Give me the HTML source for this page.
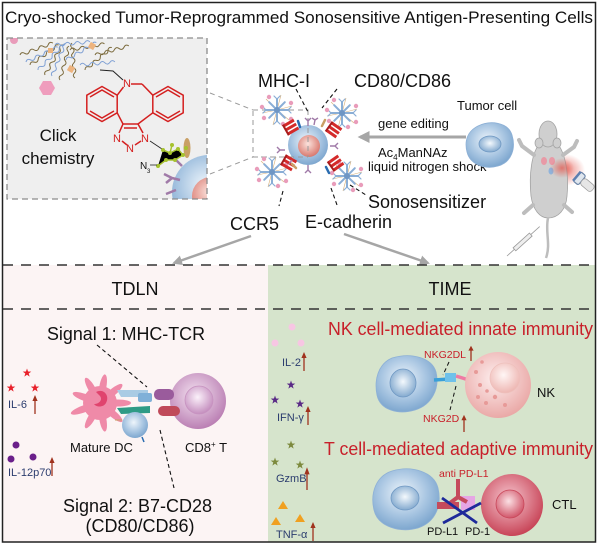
<!DOCTYPE html>
<html><head><meta charset="utf-8"><style>
html,body{margin:0;padding:0;background:#fff;}
svg{display:block;}
text{font-family:"Liberation Sans",Arial,sans-serif;}
</style></head><body>
<svg width="600" height="545" viewBox="0 0 600 545" xmlns="http://www.w3.org/2000/svg">
<defs>
<radialGradient id="gBlue" cx="45%" cy="40%" r="60%"><stop offset="0" stop-color="#eef5fb"/><stop offset="0.6" stop-color="#a9c6e2"/><stop offset="1" stop-color="#7ea7cf"/></radialGradient>
<radialGradient id="gBlueNuc" cx="50%" cy="45%" r="60%"><stop offset="0" stop-color="#f4f9fd"/><stop offset="1" stop-color="#7aa3cb"/></radialGradient>
<radialGradient id="gRed" cx="45%" cy="40%" r="60%"><stop offset="0" stop-color="#fbe3dd"/><stop offset="1" stop-color="#d9786e"/></radialGradient>
<radialGradient id="gCTL" cx="45%" cy="40%" r="60%"><stop offset="0" stop-color="#f6c6cf"/><stop offset="1" stop-color="#c84558"/></radialGradient>
<radialGradient id="gCTLn" cx="45%" cy="40%" r="60%"><stop offset="0" stop-color="#fbe0e4"/><stop offset="1" stop-color="#d1566a"/></radialGradient>
<radialGradient id="gNK" cx="45%" cy="40%" r="60%"><stop offset="0" stop-color="#fdeeee"/><stop offset="1" stop-color="#eaa9a7"/></radialGradient>
<radialGradient id="gNKn" cx="45%" cy="40%" r="60%"><stop offset="0" stop-color="#fff6f5"/><stop offset="1" stop-color="#eeb7b3"/></radialGradient>
<radialGradient id="gCD8" cx="45%" cy="40%" r="60%"><stop offset="0" stop-color="#f4e3f1"/><stop offset="1" stop-color="#bb80b4"/></radialGradient>
<radialGradient id="gCD8n" cx="45%" cy="40%" r="60%"><stop offset="0" stop-color="#fbf1fa"/><stop offset="1" stop-color="#c58fbf"/></radialGradient>
<radialGradient id="gGlow" cx="50%" cy="50%" r="50%"><stop offset="0" stop-color="#e4584e" stop-opacity="0.75"/><stop offset="1" stop-color="#e4584e" stop-opacity="0"/></radialGradient>
<clipPath id="insetClip"><rect x="7" y="38" width="200" height="161"/></clipPath>
<marker id="ah" viewBox="0 0 10 10" refX="8" refY="5" markerWidth="4" markerHeight="4" orient="auto"><path d="M0,0 L10,5 L0,10 z" fill="#a6a6a6"/></marker>
<path id="star" d="M0,-4.5 L1.06,-1.46 4.28,-1.39 1.71,0.56 2.65,3.64 0,1.8 -2.65,3.64 -1.71,0.56 -4.28,-1.39 -1.06,-1.46Z"/>
<path id="wv" d="M0,0 q2.5,-3 5,0 t5,0 t5,0 t5,0 t5,0 t5,0 t5,0" fill="none" stroke-width="1"/>
<g id="upa"><line x1="0" y1="0" x2="0" y2="-14" stroke="#a0321e" stroke-width="1.3"/><polygon points="-2.6,-13 0,-19 2.6,-13" fill="#a0321e"/></g>
<g id="gly">
 <g stroke="#d7b07a" stroke-width="0.6">
  <line x1="0" y1="0" x2="15" y2="-4"/><line x1="0" y1="0" x2="-4" y2="15"/><line x1="0" y1="0" x2="-15" y2="3"/><line x1="0" y1="0" x2="4" y2="-15"/><line x1="0" y1="0" x2="12" y2="10"/><line x1="0" y1="0" x2="-11" y2="-11"/>
 </g>
 <g stroke="#8aaed6" stroke-width="2" stroke-linecap="round">
  <line x1="0" y1="0" x2="11" y2="0"/><line x1="0" y1="0" x2="7.8" y2="7.8"/><line x1="0" y1="0" x2="0" y2="11"/><line x1="0" y1="0" x2="-7.8" y2="7.8"/><line x1="0" y1="0" x2="-11" y2="0"/><line x1="0" y1="0" x2="-7.8" y2="-7.8"/><line x1="0" y1="0" x2="0" y2="-11"/><line x1="0" y1="0" x2="7.8" y2="-7.8"/>
  <path d="M11,0 l3,-3 M11,0 l3,3 M0,11 l-3,3 M0,11 l3,3 M-11,0 l-3,-3 M-11,0 l-3,3 M0,-11 l-3,-3 M0,-11 l3,-3" stroke-width="1.2"/>
 </g>
 <circle r="3" fill="#6f96c4"/>
 <g fill="#e99cba"><circle cx="14" cy="-7" r="2.2"/><circle cx="-13" cy="8" r="2.2"/><circle cx="6" cy="14" r="2.2"/><circle cx="-8" cy="-13" r="2.2"/><circle cx="14" cy="9" r="2.2"/><circle cx="-15" cy="-3" r="2.2"/></g>
</g>
<g id="rec">
 <rect x="-6" y="-6" width="12" height="3" fill="#d42a2a"/><rect x="-6" y="-1.5" width="12" height="3" fill="#d42a2a"/><rect x="-6" y="3" width="12" height="3" fill="#d42a2a"/><rect x="-7" y="-6" width="2" height="12" fill="#a81c1c"/>
</g>
</defs>

<!-- backgrounds -->
<rect x="0" y="0" width="600" height="545" fill="#fff"/>
<rect x="3" y="265" width="265" height="277" fill="#fcf4f4"/>
<rect x="268" y="265" width="327" height="277" fill="#d6e4cc"/>
<rect x="2.5" y="2.5" width="593" height="539.5" fill="none" stroke="#222" stroke-width="1.5"/>

<!-- title -->
<text x="5" y="23" font-size="17" fill="#111" textLength="588" lengthAdjust="spacingAndGlyphs">Cryo-shocked Tumor-Reprogrammed Sonosensitive Antigen-Presenting Cells</text>

<!-- inset box -->
<rect x="7" y="38" width="200" height="161" fill="#efefef"/>
<g clip-path="url(#insetClip)">
 <g stroke="#7b6a3c">
  <use href="#wv" transform="translate(20,55) rotate(-20)"/>
  <use href="#wv" transform="translate(30,65) rotate(-35)"/>
  <use href="#wv" transform="translate(45,75) rotate(-60)"/>
  <use href="#wv" transform="translate(60,80) rotate(-75)"/>
  <use href="#wv" transform="translate(75,78) rotate(-95)"/>
  <use href="#wv" transform="translate(70,50) rotate(-10)"/>
  <use href="#wv" transform="translate(85,70) rotate(-40)"/>
  <use href="#wv" transform="translate(95,55) rotate(-15)"/>
 </g>
 <g stroke="#7fa0d4">
  <use href="#wv" transform="translate(26,62) rotate(-25)"/>
  <use href="#wv" transform="translate(38,70) rotate(-45)"/>
  <use href="#wv" transform="translate(52,76) rotate(-68)"/>
  <use href="#wv" transform="translate(66,60) rotate(-30)"/>
  <use href="#wv" transform="translate(80,65) rotate(-5)"/>
  <use href="#wv" transform="translate(55,45) rotate(-5)"/>
 </g>
 <g fill="#eeb47e"><rect x="89" y="43" width="6" height="6" transform="rotate(30 92 46)"/><rect x="68" y="66" width="6" height="6" transform="rotate(30 71 69)"/><rect x="48" y="48" width="5" height="5"/></g>
 <circle cx="14" cy="40" r="4" fill="#e99cba"/>
 <polygon points="55,88 51,95 43,95 39,88 43,81 51,81" fill="#ef9dbd"/>
 <polyline points="100,70 113,71 123,80" fill="none" stroke="#222" stroke-width="1"/>
 <g fill="none" stroke="#d42020" stroke-width="1.5">
  <polygon points="102,86.5 117.2,95.2 117.2,112.8 102,121.5 86.8,112.8 86.8,95.2"/>
  <polyline points="90,97 102,90 114,97"/><polyline points="90,111 102,118 114,111"/>
  <polygon points="168,86.5 183.2,95.2 183.2,112.8 168,121.5 152.8,112.8 152.8,95.2"/>
  <polyline points="156,97 168,90 180,97"/><polyline points="156,111 168,118 180,111"/>
  <line x1="117.2" y1="95.2" x2="123.5" y2="87"/>
  <line x1="131" y1="84" x2="142" y2="84"/><line x1="142" y1="84" x2="152.8" y2="95.2"/>
  <line x1="117.2" y1="112.8" x2="123" y2="124"/><line x1="152.8" y1="112.8" x2="138" y2="124"/>
  <line x1="123" y1="124" x2="138" y2="124"/><line x1="124" y1="128" x2="137" y2="128"/>
  <line x1="123" y1="124" x2="119" y2="133"/><line x1="138" y1="124" x2="143" y2="133"/>
  <line x1="122" y1="141" x2="127" y2="145"/><line x1="141" y1="141" x2="135" y2="145"/>
 </g>
 <g fill="#d42020" font-size="11" text-anchor="middle">
  <text x="127" y="87">N</text><text x="117" y="142">N</text><text x="130" y="152">N</text><text x="145" y="142">N</text>
 </g>
 <line x1="150" y1="141" x2="162" y2="149" stroke="#222" stroke-width="0.8"/>
 <circle cx="209" cy="192" r="37" fill="url(#gBlue)"/>
 <circle cx="211" cy="196" r="19" fill="url(#gRed)"/>
 <ellipse cx="187" cy="148" rx="3.5" ry="10" fill="#c9a066"/>
 <g stroke="#a07aa8" stroke-width="2.5" fill="none">
  <path d="M172,178 l-8,-4 M172,178 l-6,5 M172,178 l8,2"/>
  <path d="M182,166 l-6,-6"/>
  <path d="M176,190 l-10,4"/>
 </g>
 <g stroke="#a6c22e" stroke-width="1.5"><polyline points="163,150 170,153 178,149 183,155 175,160 166,160 158,166"/><line x1="170" y1="153" x2="172" y2="145"/></g>
 <g fill="#a6c22e"><circle cx="163" cy="150" r="2"/><circle cx="170" cy="153" r="2"/><circle cx="178" cy="149" r="2"/><circle cx="183" cy="155" r="2"/><circle cx="175" cy="160" r="2"/><circle cx="166" cy="160" r="2"/><circle cx="158" cy="166" r="2"/><circle cx="172" cy="145" r="2"/><circle cx="186" cy="148" r="2"/></g>
 <line x1="150" y1="165" x2="157" y2="165" stroke="#222" stroke-width="0.8"/>
 <text x="140" y="169" font-size="10" fill="#111">N</text><text x="147" y="173" font-size="6" fill="#111">3</text>
</g>
<rect x="7" y="38" width="200" height="161" fill="none" stroke="#8c8c8c" stroke-width="1.3" stroke-dasharray="6,4"/>
<text x="58" y="141" font-size="17" fill="#111" text-anchor="middle">Click</text>
<text x="58" y="164" font-size="17" fill="#111" text-anchor="middle">chemistry</text>

<!-- zoom lines -->
<g stroke="#9a9a9a" stroke-width="1" stroke-dasharray="5,4" fill="none">
 <line x1="210" y1="93" x2="253" y2="110"/>
 <line x1="210" y1="174" x2="253" y2="157"/>
 <rect x="253" y="110" width="55" height="47"/>
</g>

<!-- central cell -->
<circle cx="308" cy="145" r="20" fill="url(#gBlue)"/>
<circle cx="309" cy="146" r="11" fill="url(#gRed)"/>
<line x1="308" y1="110" x2="308" y2="157" stroke="#9a9a9a" stroke-width="1" stroke-dasharray="5,4"/>
<line x1="253" y1="157" x2="308" y2="157" stroke="#9a9a9a" stroke-width="1" stroke-dasharray="5,4"/>
<use href="#gly" transform="translate(277,110)"/>
<use href="#gly" transform="translate(342,113)"/>
<use href="#gly" transform="translate(272,172)"/>
<use href="#gly" transform="translate(347,176)"/>
<use href="#rec" transform="translate(291,127) rotate(-30)"/>
<use href="#rec" transform="translate(334,130) rotate(35)"/>
<use href="#rec" transform="translate(289,163) rotate(30)"/>
<use href="#rec" transform="translate(336,163) rotate(-35)"/>
<g stroke="#2a6cb0" stroke-width="2.5" stroke-linecap="round"><line x1="298" y1="121" x2="300" y2="127"/><line x1="326" y1="167" x2="329" y2="173"/></g>
<g stroke="#c9a066" stroke-width="2.5" stroke-linecap="round"><line x1="325" y1="120" x2="322" y2="126"/><line x1="292" y1="164" x2="296" y2="168"/></g>
<g stroke="#a07aa8" stroke-width="1.4" fill="none">
 <path d="M308,126 l0,-5 M308,121 l-3,-3 M308,121 l3,-3"/><path d="M314,125 l1,-5 l-3,-2 M315,120 l3,-2"/>
 <path d="M330,146 l5,0 l3,-3 M335,146 l3,3"/><path d="M285,150 l-5,0 l-3,-3 M280,150 l-3,3"/>
 <path d="M308,165 l0,5 l-3,3 M308,170 l3,3"/><path d="M292,160 l-3,4"/>
</g>
<g stroke="#111" stroke-width="1.1" stroke-dasharray="4,3" fill="none">
 <line x1="296" y1="89" x2="308" y2="112"/>
 <line x1="337" y1="89" x2="322" y2="108"/>
 <line x1="283" y1="191" x2="279" y2="206"/>
 <line x1="331" y1="188" x2="337" y2="205"/>
 <line x1="350" y1="185" x2="366" y2="195"/>
</g>
<text x="258" y="87" font-size="18" fill="#111">MHC-I</text>
<text x="354" y="87" font-size="18" fill="#111">CD80/CD86</text>
<text x="368" y="208" font-size="18" fill="#111">Sonosensitizer</text>
<text x="305" y="228" font-size="18" fill="#111">E-cadherin</text>
<text x="230" y="230" font-size="18" fill="#111">CCR5</text>

<!-- horizontal arrow -->
<line x1="466" y1="137" x2="360" y2="137" stroke="#a6a6a6" stroke-width="3" marker-end="url(#ah)"/>
<text x="378" y="128" font-size="13" fill="#111">gene editing</text>
<text x="378" y="157" font-size="13" fill="#111">Ac<tspan font-size="8" dy="3">4</tspan><tspan dy="-3">ManNAz</tspan></text>
<text x="368" y="171" font-size="13" fill="#111">liquid nitrogen shock</text>
<text x="457" y="110" font-size="13" fill="#111">Tumor cell</text>
<path d="M478,126 C490,120 508,122 512,135 C516,148 512,162 498,166 C484,170 470,164 467,152 C464,140 468,131 478,126 Z" fill="url(#gBlue)" stroke="#8db0d6" stroke-width="0.8"/>
<ellipse cx="490" cy="144" rx="11" ry="8" fill="url(#gBlueNuc)" stroke="#6f98c3" stroke-width="0.8"/>

<!-- mouse -->
<g>
 <ellipse cx="565" cy="170" rx="20" ry="16" fill="url(#gGlow)"/>
 <path d="M541,142 C531,152 529,176 531,196 C533,210 540,218 548,218 C558,218 566,210 567,196 C569,176 566,152 556,142 Z" fill="#cfcfcf" stroke="#a3a3a3" stroke-width="0.8"/>
 <ellipse cx="548" cy="134" rx="9" ry="13" fill="#cfcfcf" stroke="#a3a3a3" stroke-width="0.8"/>
 <ellipse cx="539" cy="143" rx="4" ry="5" fill="#cfcfcf" stroke="#a3a3a3" stroke-width="0.8"/>
 <ellipse cx="557" cy="143" rx="4" ry="5" fill="#cfcfcf" stroke="#a3a3a3" stroke-width="0.8"/>
 <g stroke="#bdbdbd" stroke-width="4" stroke-linecap="round" fill="none">
  <path d="M534,155 L522,146 L519,140"/><path d="M563,155 L574,147 L577,141"/>
  <path d="M533,205 L524,213"/><path d="M564,205 L572,212"/>
 </g>
 <path d="M548,218 C545,232 551,244 546,258" stroke="#bdbdbd" stroke-width="2.5" fill="none"/>
 <g fill="#e89aa6"><ellipse cx="544" cy="161" rx="3" ry="4"/><ellipse cx="552" cy="161" rx="3" ry="4"/></g>
 <ellipse cx="551" cy="171" rx="2.5" ry="3.5" fill="#8fb3db"/>
 <ellipse cx="562" cy="168" rx="12" ry="10" fill="url(#gGlow)"/>
 <g transform="translate(579,178) rotate(40)">
  <rect x="-3" y="-6" width="7" height="12" rx="2" fill="#dfe6ee" stroke="#6d86a8" stroke-width="1.2"/>
  <rect x="4" y="-4" width="14" height="8" rx="3" fill="#e6e6e6" stroke="#9a9a9a" stroke-width="0.7"/>
  <rect x="-4" y="-6" width="2.5" height="12" fill="#5e7fb0"/>
 </g>
 <g transform="translate(507,256) rotate(-42)">
  <line x1="0" y1="0" x2="10" y2="0" stroke="#9a9a9a" stroke-width="0.8"/>
  <rect x="10" y="-2" width="22" height="4" fill="#eee" stroke="#9a9a9a" stroke-width="0.8"/>
  <line x1="32" y1="0" x2="44" y2="0" stroke="#9a9a9a" stroke-width="0.8"/>
 </g>
</g>

<!-- down arrows -->
<line x1="251" y1="236" x2="174" y2="263" stroke="#a6a6a6" stroke-width="2.5" marker-end="url(#ah)"/>
<line x1="344" y1="234" x2="428" y2="263" stroke="#a6a6a6" stroke-width="2.5" marker-end="url(#ah)"/>

<!-- dashed separators -->
<line x1="3" y1="265" x2="595" y2="265" stroke="#333" stroke-width="1.5" stroke-dasharray="10,8"/>
<line x1="3" y1="309" x2="595" y2="309" stroke="#333" stroke-width="1.5" stroke-dasharray="10,8"/>
<text x="135" y="295" font-size="18" fill="#111" text-anchor="middle">TDLN</text>
<text x="450" y="295" font-size="18" fill="#111" text-anchor="middle">TIME</text>

<!-- TDLN -->
<text x="47" y="340" font-size="18" fill="#111" textLength="158" lengthAdjust="spacingAndGlyphs">Signal 1: MHC-TCR</text>
<text x="63" y="512" font-size="18" fill="#111" textLength="149" lengthAdjust="spacingAndGlyphs">Signal 2: B7-CD28</text>
<text x="140" y="532" font-size="18" fill="#111" text-anchor="middle">(CD80/CD86)</text>
<g fill="#e8202a"><use href="#star" transform="translate(27,373)"/><use href="#star" transform="translate(11,388)"/><use href="#star" transform="translate(35,388)"/></g>
<text x="8" y="408" font-size="11" fill="#2b3c6e">IL-6</text>
<use href="#upa" transform="translate(35,414)"/>
<g fill="#6a1f8a"><circle cx="16" cy="445" r="3.5"/><circle cx="11" cy="459" r="3.5"/><circle cx="33" cy="457" r="3.5"/></g>
<text x="8" y="476" font-size="11" fill="#2b3c6e">IL-12p70</text>
<use href="#upa" transform="translate(52,476)"/>
<!-- DC -->
<g fill="#ef8aa8">
 <g transform="translate(100,403)">
  <ellipse rx="13" ry="3.5" transform="rotate(0) translate(18,0)"/>
  <ellipse rx="12" ry="3.5" transform="rotate(40) translate(17,0)"/>
  <ellipse rx="12" ry="3.5" transform="rotate(80) translate(17,0)"/>
  <ellipse rx="12" ry="3.5" transform="rotate(120) translate(17,0)"/>
  <ellipse rx="13" ry="3.5" transform="rotate(160) translate(18,0)"/>
  <ellipse rx="12" ry="3.5" transform="rotate(200) translate(17,0)"/>
  <ellipse rx="12" ry="3.5" transform="rotate(240) translate(17,0)"/>
  <ellipse rx="12" ry="3.5" transform="rotate(280) translate(17,0)"/>
  <ellipse rx="12" ry="3.5" transform="rotate(320) translate(17,0)"/>
  <circle r="17"/>
 </g>
</g>
<path d="M96,392 C104,388 110,396 106,403 C103,408 96,407 94,404 C99,404 103,400 100,396 Z" fill="#e0446e"/>
<circle cx="198" cy="401" r="28" fill="url(#gCD8)"/>
<circle cx="199" cy="400" r="14" fill="url(#gCD8n)" stroke="#c792c0" stroke-width="0.8"/>
<path d="M117,390 L148,390 L148,397 L121,397 Z" fill="#a9cbe4"/>
<rect x="138" y="393" width="14" height="9" rx="2" fill="#7fb0d8"/>
<rect x="154" y="389" width="20" height="11" rx="5" fill="#9a5b9c"/>
<path d="M117,408 L150,406 L150,413 L121,414 Z" fill="#2f9b86"/>
<rect x="158" y="406" width="22" height="10" rx="5" fill="#c04a5a"/>
<circle cx="135" cy="425" r="13" fill="url(#gBlue)"/>
<g stroke="#c9a066" stroke-width="1"><line x1="122" y1="420" x2="115" y2="420"/></g>
<g stroke="#2a6cb0" stroke-width="1.5"><line x1="142" y1="437" x2="144" y2="442"/></g>
<g stroke="#111" stroke-width="1.1" stroke-dasharray="4,3" fill="none">
 <line x1="97" y1="345" x2="147" y2="387"/>
 <line x1="160" y1="430" x2="174" y2="488"/>
</g>
<text x="70" y="452" font-size="13" fill="#111">Mature DC</text>
<text x="185" y="452" font-size="13" fill="#111">CD8<tspan font-size="8" dy="-5">+</tspan><tspan dy="5"> T</tspan></text>

<!-- TIME cytokines -->
<g fill="#f7c6e3"><circle cx="292" cy="327" r="3.5"/><circle cx="275" cy="343" r="3.5"/><circle cx="301" cy="343" r="3.5"/></g>
<text x="282" y="366" font-size="11" fill="#2b3c6e">IL-2</text>
<use href="#upa" transform="translate(304,371)"/>
<g fill="#5a2a86"><use href="#star" transform="translate(291,385)"/><use href="#star" transform="translate(275,400)"/><use href="#star" transform="translate(300,404)"/></g>
<text x="277" y="421" font-size="11" fill="#2b3c6e">IFN-γ</text>
<use href="#upa" transform="translate(308,425)"/>
<g fill="#7d8a3e"><use href="#star" transform="translate(291,445)"/><use href="#star" transform="translate(275,462)"/><use href="#star" transform="translate(300,465)"/></g>
<text x="276" y="482" font-size="11" fill="#2b3c6e">GzmB</text>
<use href="#upa" transform="translate(307,490) scale(1,1.2)"/>
<g fill="#f0a020"><polygon points="283,501 288,509 278,509"/><polygon points="276,517 281,525 271,525"/><polygon points="300,514 305,522 295,522"/></g>
<text x="276" y="538" font-size="11" fill="#2b3c6e">TNF-α</text>
<use href="#upa" transform="translate(313,541)"/>

<!-- NK -->
<text x="328" y="335" font-size="18" fill="#c8202a" textLength="265" lengthAdjust="spacingAndGlyphs">NK cell-mediated innate immunity</text>
<path d="M392,358 C412,352 432,358 436,372 C440,388 432,405 415,410 C398,415 380,410 377,395 C374,380 378,364 392,358 Z" fill="url(#gBlue)" stroke="#8db0d6" stroke-width="0.8"/>
<ellipse cx="403" cy="383" rx="13" ry="14" fill="url(#gBlueNuc)" stroke="#6f98c3" stroke-width="0.8"/>
<line x1="434" y1="380" x2="450" y2="379" stroke="#3aa0d8" stroke-width="3.5"/>
<rect x="445" y="373" width="11" height="9" fill="#6fc1ea"/>
<line x1="456" y1="376" x2="472" y2="381" stroke="#ef7aa4" stroke-width="3.5"/>
<circle cx="498" cy="385" r="33" fill="url(#gNK)"/>
<circle cx="505" cy="378" r="15" fill="url(#gNKn)" stroke="#eec0bc" stroke-width="0.8"/>
<g fill="#e79a98"><circle cx="476" cy="372" r="2"/><circle cx="480" cy="385" r="2"/><circle cx="478" cy="397" r="2"/><circle cx="486" cy="403" r="2"/><circle cx="495" cy="397" r="2.2"/><circle cx="505" cy="405" r="2"/><circle cx="487" cy="391" r="1.8"/><circle cx="482" cy="362" r="1.8"/></g>
<g stroke="#111" stroke-width="1" stroke-dasharray="4,3"><line x1="449" y1="362" x2="443" y2="375"/><line x1="456" y1="386" x2="450" y2="410"/></g>
<text x="424" y="358" font-size="10.5" fill="#c8202a">NKG2DL</text>
<use href="#upa" transform="translate(471,361) scale(1,0.8)"/>
<text x="423" y="422" font-size="10.5" fill="#c8202a">NKG2D</text>
<use href="#upa" transform="translate(464,432) scale(1,0.9)"/>
<text x="537" y="397" font-size="13" fill="#111">NK</text>

<!-- CTL -->
<text x="324" y="455" font-size="18" fill="#c8202a" textLength="269" lengthAdjust="spacingAndGlyphs">T cell-mediated adaptive immunity</text>
<path d="M392,471 C412,465 434,472 438,488 C442,505 436,522 418,528 C400,533 378,527 374,510 C370,493 376,476 392,471 Z" fill="url(#gBlue)" stroke="#8db0d6" stroke-width="0.8"/>
<ellipse cx="405" cy="498" rx="14" ry="12" fill="url(#gBlueNuc)" stroke="#6f98c3" stroke-width="0.8"/>
<circle cx="512" cy="505" r="31" fill="url(#gCTL)"/>
<circle cx="510" cy="504" r="14" fill="url(#gCTLn)" stroke="#c84558" stroke-width="0.8"/>
<rect x="437" y="502" width="22" height="7" fill="#c54a5c"/>
<rect x="461" y="496" width="14" height="14" fill="#e6a6e4"/>
<g stroke="#c54a5c" stroke-width="4" fill="none"><line x1="458" y1="479" x2="458" y2="497"/><line x1="458" y1="497" x2="450" y2="503"/><line x1="458" y1="497" x2="467" y2="502"/></g>
<g stroke="#1e2a9a" stroke-width="2.8"><line x1="442" y1="498" x2="477" y2="523"/><line x1="443" y1="523" x2="481" y2="503"/></g>
<text x="439" y="477" font-size="10.5" fill="#c8202a">anti PD-L1</text>
<text x="427" y="535" font-size="11" fill="#111">PD-L1</text>
<text x="465" y="535" font-size="11" fill="#111">PD-1</text>
<text x="552" y="509" font-size="13" fill="#111">CTL</text>
</svg>
</body></html>
